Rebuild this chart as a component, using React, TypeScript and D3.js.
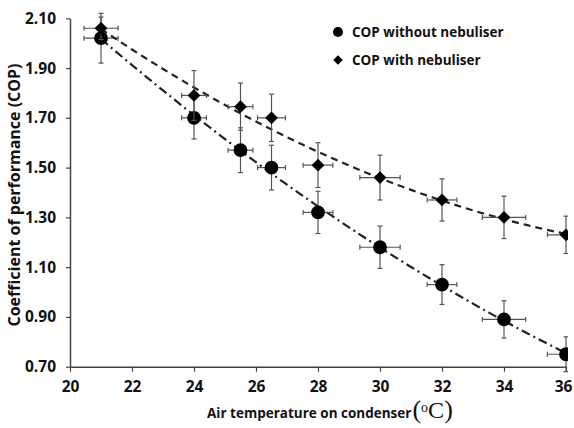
import React, { useEffect, useRef } from "react";
import * as d3 from "d3";

// air temperature on condenser (degC)
const temps = [21, 24, 25.5, 26.5, 28, 30, 32, 34, 36];
// COP readings
const copWithout = [2.02, 1.7, 1.57, 1.5, 1.32, 1.18, 1.03, 0.89, 0.75];
const copWith = [2.06, 1.79, 1.745, 1.7, 1.51, 1.46, 1.37, 1.3, 1.23];
// error bars
const yErrWithout = [0.1, 0.085, 0.09, 0.09, 0.085, 0.085, 0.08, 0.075, 0.07];
const yErrWith = [0.045, 0.1, 0.095, 0.095, 0.09, 0.09, 0.085, 0.085, 0.075];
const xErr = [0.55, 0.4, 0.4, 0.45, 0.48, 0.65, 0.48, 0.7, 0.6];

const xTicks = [20, 22, 24, 26, 28, 30, 32, 34, 36];
const yTicks = [0.7, 0.9, 1.1, 1.3, 1.5, 1.7, 1.9, 2.1];

const FONT = "'Open Sans', sans-serif";

// 2nd order least squares trendline, like the spreadsheet one
function quadFit(xs: number[], ys: number[]) {
  const n = xs.length;
  let s1 = 0, s2 = 0, s3 = 0, s4 = 0, t0 = 0, t1 = 0, t2 = 0;
  for (let i = 0; i < n; i++) {
    const xv = xs[i], yv = ys[i];
    s1 += xv; s2 += xv * xv; s3 += xv ** 3; s4 += xv ** 4;
    t0 += yv; t1 += xv * yv; t2 += xv * xv * yv;
  }
  const A = [
    [n, s1, s2, t0],
    [s1, s2, s3, t1],
    [s2, s3, s4, t2],
  ];
  for (let c = 0; c < 3; c++) {
    for (let r = c + 1; r < 3; r++) {
      const f = A[r][c] / A[c][c];
      for (let k = c; k < 4; k++) A[r][k] -= f * A[c][k];
    }
  }
  const coef = [0, 0, 0];
  for (let r = 2; r >= 0; r--) {
    let s = A[r][3];
    for (let k = r + 1; k < 3; k++) s -= A[r][k] * coef[k];
    coef[r] = s / A[r][r];
  }
  return (t: number) => coef[0] + coef[1] * t + coef[2] * t * t;
}

const App = () => {
  const ref = useRef<SVGSVGElement>(null);

  useEffect(() => {
    const svg = d3.select(ref.current);
    svg.selectAll("*").remove();

    const width = 574;
    const height = 428;
    const left = 70, right = 566, top = 18.3, bottom = 366.7;

    const x = d3.scaleLinear().domain([20, 36]).range([left, right]);
    const y = d3.scaleLinear().domain([0.7, 2.1]).range([bottom, top]);

    svg.append("rect").attr("width", width).attr("height", height).attr("fill", "#fff");

    svg.append("defs").append("clipPath").attr("id", "clip")
      .append("rect").attr("x", 0).attr("y", 0).attr("width", right + 2).attr("height", height);

    // axes
    const xAxis = svg.append("g")
      .attr("transform", `translate(0,${bottom})`)
      .call(d3.axisBottom(x).tickValues(xTicks).tickSize(5).tickSizeOuter(0).tickPadding(9).tickFormat(d3.format("d")));
    const yAxis = svg.append("g")
      .attr("transform", `translate(${left},0)`)
      .call(d3.axisLeft(y).tickValues(yTicks).tickSize(4).tickSizeOuter(0).tickPadding(10).tickFormat(d3.format(".2f")));

    [xAxis, yAxis].forEach((g) => {
      g.select(".domain").attr("stroke", "#444").attr("stroke-width", 1.5);
      g.selectAll(".tick line").attr("stroke", "#444").attr("stroke-width", 1.2);
      g.selectAll(".tick text")
        .attr("fill", "#111")
        .style("font-family", FONT)
        .style("font-weight", "bold")
        .style("font-size", "15.5px");
    });
    // last x label sits on the edge of the page
    xAxis.selectAll(".tick text").filter((d: any) => d === 36).attr("dx", -3);

    const plot = svg.append("g").attr("clip-path", "url(#clip)");

    const series = [
      { vals: copWithout, err: yErrWithout, dash: "9,4,2,4", shape: "circle" },
      { vals: copWith, err: yErrWith, dash: "7,5", shape: "diamond" },
    ];

    series.forEach((s) => {
      const pts = temps.map((t, i) => ({ t, v: s.vals[i], ey: s.err[i], ex: xErr[i] }));

      const fit = quadFit(temps, s.vals);
      const ts = d3.range(temps[0], temps[temps.length - 1] + 0.001, 0.25);
      const line = d3.line<number>()
        .x((t) => x(t))
        .y((t) => y(fit(t)));

      plot.append("path")
        .datum(ts)
        .attr("d", line)
        .attr("fill", "none")
        .attr("stroke", "#222")
        .attr("stroke-width", 2.2)
        .attr("stroke-dasharray", s.dash);

      const eb = plot.append("g").attr("stroke", "#555").attr("stroke-width", 1.2);
      pts.forEach((d) => {
        const cx = x(d.t), cy = y(d.v);
        const y1 = y(d.v + d.ey), y2 = y(d.v - d.ey);
        const x1 = x(d.t - d.ex), x2 = x(d.t + d.ex);
        eb.append("line").attr("x1", cx).attr("x2", cx).attr("y1", y1).attr("y2", y2);
        eb.append("line").attr("x1", cx - 2.5).attr("x2", cx + 2.5).attr("y1", y1).attr("y2", y1);
        eb.append("line").attr("x1", cx - 2.5).attr("x2", cx + 2.5).attr("y1", y2).attr("y2", y2);
        eb.append("line").attr("x1", x1).attr("x2", x2).attr("y1", cy).attr("y2", cy);
        eb.append("line").attr("x1", x1).attr("x2", x1).attr("y1", cy - 2.5).attr("y2", cy + 2.5);
        eb.append("line").attr("x1", x2).attr("x2", x2).attr("y1", cy - 2.5).attr("y2", cy + 2.5);
      });

      const isCircle = s.shape === "circle";
      const sym = isCircle
        ? d3.symbol().type(d3.symbolCircle).size(150)
        : d3.symbol().type(d3.symbolSquare).size(82);
      plot.selectAll(null)
        .data(pts)
        .enter()
        .append("path")
        .attr("transform", (d) => `translate(${x(d.t)},${y(d.v)})${isCircle ? "" : " rotate(45)"}`)
        .attr("d", sym)
        .attr("fill", "#000");
    });

    // legend
    const legend = svg.append("g").attr("transform", "translate(338,32)");
    const legendItems = [
      { name: "COP without nebuliser", sym: d3.symbol().type(d3.symbolCircle).size(80), rot: 0 },
      { name: "COP with nebuliser", sym: d3.symbol().type(d3.symbolSquare).size(45), rot: 45 },
    ];
    legendItems.forEach((d, i) => {
      legend.append("path")
        .attr("transform", `translate(0,${i * 28}) rotate(${d.rot})`)
        .attr("d", d.sym)
        .attr("fill", "#000");
      legend.append("text")
        .attr("x", 14)
        .attr("y", i * 28 + 5)
        .text(d.name)
        .style("font-family", FONT)
        .style("font-weight", "bold")
        .style("font-size", "13.5px")
        .attr("fill", "#111");
    });

    // axis titles
    svg.append("text")
      .attr("transform", "translate(20,195) rotate(-90)")
      .attr("text-anchor", "middle")
      .text("Coefficient of performance (COP)")
      .style("font-family", FONT)
      .style("font-weight", "bold")
      .style("font-size", "16px")
      .attr("fill", "#111");

    const xt = svg.append("text")
      .attr("x", 207)
      .attr("y", 418)
      .style("font-family", FONT)
      .style("font-weight", "bold")
      .style("font-size", "13.5px")
      .attr("fill", "#111");
    xt.append("tspan").text("Air temperature on condenser");
    xt.append("tspan")
      .text("(")
      .attr("dx", 1)
      .style("font-family", "'Liberation Serif', serif")
      .style("font-weight", "normal")
      .style("font-size", "26px");
    xt.append("tspan")
      .text("o")
      .attr("dy", -6)
      .style("font-family", "'Liberation Serif', serif")
      .style("font-weight", "normal")
      .style("font-size", "14px");
    xt.append("tspan")
      .text("C")
      .attr("dy", 6)
      .style("font-family", "'Liberation Serif', serif")
      .style("font-weight", "normal")
      .style("font-size", "24px");
    xt.append("tspan")
      .text(")")
      .style("font-family", "'Liberation Serif', serif")
      .style("font-weight", "normal")
      .style("font-size", "26px");
  }, []);

  return (
    <div style={{ position: "absolute", left: 0, top: 0 }}>
      <svg ref={ref} width="574" height="428" style={{ display: "block" }}></svg>
    </div>
  );
};

export default App;
